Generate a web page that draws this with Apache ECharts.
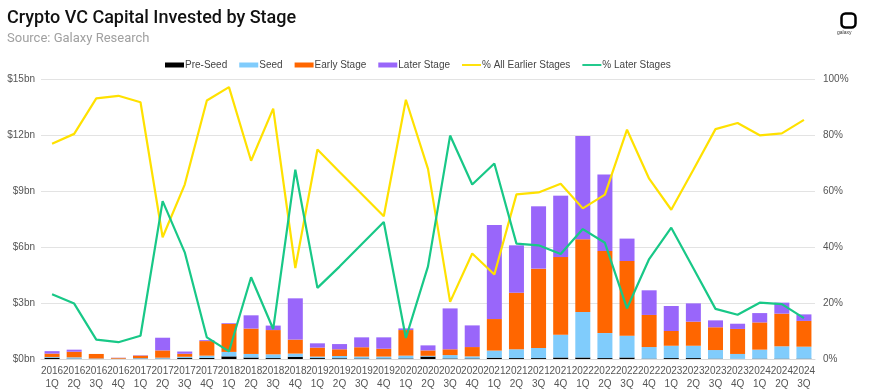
<!DOCTYPE html>
<html>
<head>
<meta charset="utf-8">
<script src="https://cdn.jsdelivr.net/npm/echarts@6/dist/echarts.min.js"></script>
<style>html,body{margin:0;padding:0;background:#fff;}#c{width:871px;height:391px;}</style>
</head>
<body>
<div id="c"></div>
<script>
const categories = ['2016\n1Q','2016\n2Q','2016\n3Q','2016\n4Q','2017\n1Q','2017\n2Q','2017\n3Q','2017\n4Q','2018\n1Q','2018\n2Q','2018\n3Q','2018\n4Q','2019\n1Q','2019\n2Q','2019\n3Q','2019\n4Q','2020\n1Q','2020\n2Q','2020\n3Q','2020\n4Q','2021\n1Q','2021\n2Q','2021\n3Q','2021\n4Q','2022\n1Q','2022\n2Q','2022\n3Q','2022\n4Q','2023\n1Q','2023\n2Q','2023\n3Q','2023\n4Q','2024\n1Q','2024\n2Q','2024\n3Q'];
const preSeed = [0.07,0.02,0.01,0.01,0.02,0.02,0.05,0.06,0.14,0.08,0.05,0.12,0.05,0.04,0.03,0.03,0.03,0.13,0.03,0.03,0.07,0.05,0.05,0.08,0.08,0.05,0.08,0.02,0.05,0.05,0.02,0.01,0.02,0.02,0.02];
const seed = [0.04,0.07,0.02,0.01,0.03,0.05,0.07,0.12,0.24,0.19,0.20,0.17,0.08,0.12,0.10,0.10,0.15,0.04,0.18,0.11,0.38,0.47,0.54,1.22,2.44,1.34,1.17,0.62,0.66,0.66,0.46,0.26,0.48,0.66,0.64];
const earlyStage = [0.18,0.30,0.24,0.04,0.13,0.39,0.16,0.78,1.50,1.36,1.30,0.75,0.48,0.36,0.50,0.42,1.37,0.29,0.31,0.50,1.69,3.03,4.25,4.16,3.89,4.40,4.00,1.72,0.79,1.29,1.22,1.34,1.46,1.75,1.38];
const laterStage = [0.13,0.11,0.00,0.01,0.02,0.68,0.12,0.05,0.04,0.71,0.24,2.21,0.23,0.28,0.53,0.61,0.09,0.27,2.19,1.16,5.04,2.54,3.34,3.29,5.54,4.09,1.20,1.32,1.34,0.98,0.37,0.28,0.50,0.59,0.35];
const pctEarlier = [76.9,80.4,93.1,94.0,91.7,43.5,62.3,92.3,97.1,70.8,89.4,32.5,74.8,66.8,58.9,51.0,92.6,67.9,20.4,37.7,30.2,58.8,59.5,62.6,53.8,58.7,81.9,64.4,53.3,67.6,82.1,84.3,79.9,80.6,85.4];
const pctLater = [23.1,19.8,6.9,6.0,8.3,56.4,38.1,7.7,2.7,29.2,10.7,67.6,25.4,33.0,41.0,48.9,7.5,33.1,79.8,62.3,69.8,41.2,40.6,37.5,46.4,41.5,18.1,35.7,46.9,32.4,17.9,15.8,20.1,19.6,14.6];
const leftTicks = {min:0, max:15, interval:3};
const rightTicks = {min:0, max:100, interval:20};

const FONT = 'Roboto, "Liberation Sans", Arial, sans-serif';
const SMALL = '"Liberation Sans", Arial, sans-serif';
const LINE_ICON = 'path://M0,0H40V4H0Z';
const chart = echarts.init(document.getElementById('c'), null, {renderer:'canvas'});
const barSeries = (name, data, color) => ({
  name, type:'bar', stack:'total', data, barWidth:15,
  itemStyle:{color}, emphasis:{disabled:true}
});
const lineSeries = (name, data, color) => ({
  name, type:'line', yAxisIndex:1, data, symbol:'none', smooth:false,
  lineStyle:{color, width:2.2}, itemStyle:{color}, emphasis:{disabled:true}, z:5
});
chart.setOption({
  animation:false,
  backgroundColor:'#fff',
  textStyle:{fontFamily:FONT},
  title:{
    text:'Crypto VC Capital Invested by Stage',
    subtext:'Source: Galaxy Research',
    left:2, top:4, itemGap:5,
    textStyle:{fontFamily:FONT, fontSize:18, fontWeight:500, color:'#111'},
    subtextStyle:{fontFamily:FONT, fontSize:13, color:'#a0a0a0'}
  },
  legend:{
    top:55, left:160, itemGap:12, itemWidth:19, itemHeight:5,
    textStyle:{fontFamily:SMALL, fontSize:10, color:'#444', padding:[0,0,0,-4]},
    data:[
      {name:'Pre-Seed', icon:'rect'},
      {name:'Seed', icon:'rect'},
      {name:'Early Stage', icon:'rect'},
      {name:'Later Stage', icon:'rect'},
      {name:'% All Earlier Stages', icon:LINE_ICON},
      {name:'% Later Stages', icon:LINE_ICON}
    ]
  },
  grid:{left:41, right:56, top:79, bottom:32},
  xAxis:{
    type:'category', data:categories,
    axisTick:{show:false},
    axisLine:{lineStyle:{color:'#d9d9d9', width:1}},
    axisLabel:{interval:0, fontFamily:SMALL, fontSize:10, color:'#555', lineHeight:13, margin:6}
  },
  yAxis:[
    {type:'value', min:leftTicks.min, max:leftTicks.max, interval:leftTicks.interval,
     axisLabel:{formatter:v=>'$'+v+'bn', fontFamily:SMALL, fontSize:10, color:'#555', margin:6},
     splitLine:{lineStyle:{color:'#e3e3e3', width:1}},
     axisLine:{show:false}, axisTick:{show:false}},
    {type:'value', min:rightTicks.min, max:rightTicks.max, interval:rightTicks.interval,
     axisLabel:{formatter:v=>v+'%', fontFamily:SMALL, fontSize:10, color:'#555', margin:8},
     splitLine:{show:false}, axisLine:{show:false}, axisTick:{show:false}}
  ],
  graphic:[
    {type:'rect', left:839, top:11, shape:{width:14, height:14, r:4}, style:{fill:'none', stroke:'#000', lineWidth:2.5}},
    {type:'text', left:837, top:30, style:{text:'galaxy', font:'5px sans-serif', fill:'#333'}}
  ],
  series:[
    barSeries('Pre-Seed', preSeed, '#000000'),
    barSeries('Seed', seed, '#80ccfc'),
    barSeries('Early Stage', earlyStage, '#ff6600'),
    barSeries('Later Stage', laterStage, '#9966fa'),
    lineSeries('% All Earlier Stages', pctEarlier, '#ffe100'),
    lineSeries('% Later Stages', pctLater, '#18c887')
  ]
});
</script>
</body>
</html>
